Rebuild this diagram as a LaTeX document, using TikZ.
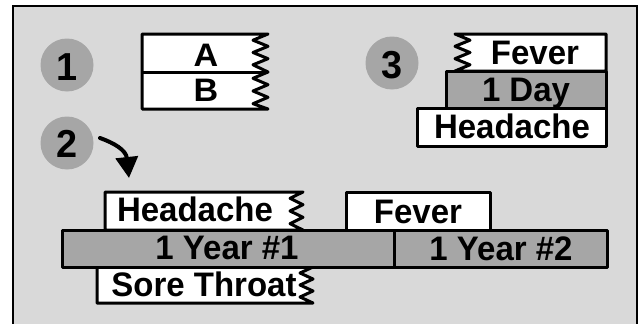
\documentclass[tikz,border=0pt]{standalone}
\usepackage{fontspec}
\setmainfont{Liberation Sans}
\newfontfamily\wideb[FakeStretch=0.97]{Liberation Sans Bold}
\newfontfamily\abfont[FakeStretch=1.05]{Liberation Sans Bold}
\usetikzlibrary{arrows.meta}
\definecolor{bgc}{HTML}{D9D9D9}
\definecolor{midgray}{HTML}{A6A6A6}
\tikzset{
  boxline/.style={draw=black, line width=3pt, line join=round},
  whitebox/.style={boxline, fill=white},
  graybox/.style={boxline, fill=midgray},
  num/.style={circle, fill=midgray, minimum size=53pt, inner sep=0pt},
  numtxt/.style={anchor=base, inner sep=0pt, font=\fontsize{39}{39}\wideb},
  btxt/.style={anchor=base, inner sep=0pt, font=\fontsize{34}{34}\wideb},
  abtxt/.style={anchor=base, inner sep=0pt, font=\fontsize{32.5}{32.5}\abfont},
}
\begin{document}
\begin{tikzpicture}[x=1pt, y=-1pt]
\useasboundingbox (0,0) rectangle (641,324);
% frame
\fill[bgc] (13,6) rectangle (637,324);
\draw[line width=2pt] (13,330) -- (13,6) -- (637,6) -- (637,330);
% circles
\node[num] (c1) at (67,65) {};
\node[num] (c2) at (67,143) {};
\node[num] (c3) at (392,63) {};
\node[numtxt] (n1) at (67,80) {1};
\node[numtxt] (n2) at (67,157) {2};
\node[numtxt] (n3) at (392,78) {3};
% part 1: A/B
\draw[whitebox] (142,34) -- (268,34) -- (253,40.2) -- (268,46.3) -- (253,52.5) -- (268,58.7) -- (253,64.8) -- (268,72)
  -- (253,78.3) -- (268,84.7) -- (253,91) -- (268,97.3) -- (253,103.7) -- (268,109) -- (142,109) -- cycle;
\draw[boxline] (142,72) -- (268,72);
\node[abtxt] (a) at (206,66) {A};
\node[abtxt] (b) at (206,101) {B};
% part 3
\draw[graybox] (446,71) rectangle (606,108);
\draw[whitebox] (455,34) -- (606,34) -- (606,71) -- (455,71) -- (470,64.8) -- (455,58.7) -- (470,52.5) -- (455,46.3) -- (470,40.2) -- cycle;
\draw[whitebox] (417,108) rectangle (606,146);
\node[btxt] (f3) at (535,64) {Fever};
\node[btxt] (d3) at (526,101) {1 Day};
\node[btxt] (h3) at (512,138) {Headache};
% arrow
\coordinate (as) at (100,138);
\coordinate (ae) at (129,178);
\draw[line width=4pt, line cap=round, -{Triangle[length=21pt, width=22pt]}] (as) .. controls (114,143) and (126,150) .. (ae);
% part 2
\draw[whitebox] (105,192) -- (303,192) -- (290,198.3) -- (303,204.7) -- (290,211) -- (303,217.3) -- (290,223.7) -- (303,230) -- (105,230) -- cycle;
\draw[whitebox] (346,192) rectangle (490,230);
\draw[whitebox] (97,267) -- (313,267) -- (300,273) -- (313,279) -- (300,285) -- (313,291) -- (300,297) -- (313,303) -- (97,303) -- cycle;
\draw[graybox] (62,230) rectangle (394,267);
\draw[graybox] (394,230) rectangle (607,267);
\node[btxt] (h2) at (195,221) {Headache};
\node[btxt] (f2) at (418,223) {Fever};
\node[btxt] (y1) at (227,259) {1 Year \#1};
\node[btxt] (y2) at (501,260) {1 Year \#2};
\node[btxt] (s2) at (204,296) {Sore Throat};
\end{tikzpicture}
\end{document}
